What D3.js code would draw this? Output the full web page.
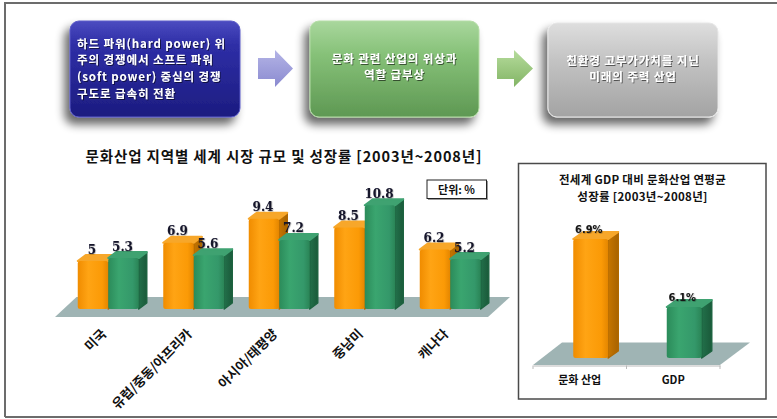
<!DOCTYPE html>
<html>
<head>
<meta charset="utf-8">
<script src="https://cdn.jsdelivr.net/npm/d3@7"></script>
<style>
  html, body { margin: 0; padding: 0; background: #fff; }
  svg { display: block; }
  .kr { font-family: "Noto Sans CJK KR", "Noto Sans", sans-serif; font-weight: 700; }
</style>
</head>
<body>
<svg id="chart" width="777" height="419"></svg>
<script>
// ---- data ----
const flowSteps = [
  ["하드 파워(hard power) 위", "주의 경쟁에서 소프트 파워", "(soft power) 중심의 경쟁", "구도로 급속히 전환"],
  ["문화 관련 산업의 위상과", "역할 급부상"],
  ["친환경 고부가가치를 지닌", "미래의 주력 산업"]
];
const regionTitle = "문화산업 지역별 세계 시장 규모 및 성장률 [2003년~2008년]";
const unitLabel = "단위: %";
const regions = ["미국", "유럽/중동/아프리카", "아시아/태평양", "중남미", "캐나다"];
const valuesOrange = [5, 6.9, 9.4, 8.5, 6.2];
const valuesGreen = [5.3, 5.6, 7.2, 10.8, 5.2];

const compareTitle = ["전세계 GDP 대비 문화산업 연평균", "성장률 [2003년~2008년]"];
const compareCategories = ["문화 산업", "GDP"];
const compareValues = [6.9, 6.1];

// ---- setup ----
const svg = d3.select("#chart");
const defs = svg.append("defs");

function linGrad(id, stops, x2 = 0, y2 = 1) {
  const g = defs.append("linearGradient").attr("id", id)
    .attr("x1", 0).attr("y1", 0).attr("x2", x2).attr("y2", y2);
  stops.forEach(([o, c]) => g.append("stop").attr("offset", o).attr("stop-color", c));
}
linGrad("gBlue", [[0, "#4b4bc0"], [0.25, "#2e2ea6"], [1, "#1c1c80"]]);
linGrad("gGreenBox", [[0, "#a9d79d"], [0.35, "#86c178"], [1, "#5e9853"]]);
linGrad("gGrayBox", [[0, "#dedede"], [0.4, "#c3c3c3"], [1, "#a3a3a3"]]);
linGrad("gArrowBlue", [[0, "#b4b4e6"], [1, "#8a8ad0"]]);
linGrad("gArrowGreen", [[0, "#b6dc9c"], [1, "#82b465"]]);
linGrad("gOrangeFront", [[0, "#f08c00"], [0.35, "#ffa414"], [0.8, "#fb9a06"], [1, "#e48600"]], 1, 0);
linGrad("gGreenFront", [[0, "#2b8b5a"], [0.35, "#3aa56f"], [0.8, "#34986a"], [1, "#2a8456"]], 1, 0);
linGrad("gOrangeSide", [[0, "#c67500"], [1, "#a86300"]], 1, 0);
linGrad("gGreenSide", [[0, "#22704a"], [1, "#1a5a3a"]], 1, 0);

const shadow = defs.append("filter").attr("id", "boxShadow")
  .attr("x", "-30%").attr("y", "-30%").attr("width", "160%").attr("height", "170%");
shadow.append("feGaussianBlur").attr("in", "SourceAlpha").attr("stdDeviation", 5).attr("result", "b");
shadow.append("feOffset").attr("in", "b").attr("dx", -5).attr("dy", 7).attr("result", "o");
shadow.append("feComponentTransfer").attr("in", "o").attr("result", "s")
  .append("feFuncA").attr("type", "linear").attr("slope", 0.6);
const sm = shadow.append("feMerge");
sm.append("feMergeNode").attr("in", "s");
sm.append("feMergeNode").attr("in", "SourceGraphic");

const tShadow = defs.append("filter").attr("id", "textShadow")
  .attr("x", "-10%").attr("y", "-30%").attr("width", "120%").attr("height", "160%");
tShadow.append("feDropShadow").attr("dx", 1).attr("dy", 1).attr("stdDeviation", 0.6)
  .attr("flood-color", "#000").attr("flood-opacity", 0.55);

const lblShadow = defs.append("filter").attr("id", "lblShadow")
  .attr("x", "-20%").attr("y", "-30%").attr("width", "140%").attr("height", "160%");
lblShadow.append("feDropShadow").attr("dx", 0.6).attr("dy", 0.6).attr("stdDeviation", 0.6)
  .attr("flood-color", "#000").attr("flood-opacity", 0.35);

// ---- outer frame ----
svg.append("path")
  .attr("d", "M5,417 L5,3 L777,3 M5,417 L777,417")
  .attr("fill", "none").attr("stroke", "#6c6c6c").attr("stroke-width", 2);

// ---- flow boxes ----
const boxes = [
  { x: 70, y: 21, w: 170, h: 96, fill: "url(#gBlue)", stroke: "#5a5ac8", align: "start", base: 47.5, gap: 16.7 },
  { x: 310, y: 21, w: 169, h: 96, fill: "url(#gGreenBox)", stroke: "#b4dca6", align: "middle", base: 62.5, gap: 16.7 },
  { x: 548, y: 23, w: 170, h: 94, fill: "url(#gGrayBox)", stroke: "#e6e6e6", align: "middle", base: 64.5, gap: 16.7 }
];
const flow = svg.append("g");
boxes.forEach((b, i) => {
  flow.append("rect").attr("x", b.x).attr("y", b.y).attr("width", b.w).attr("height", b.h)
    .attr("rx", 9).attr("fill", b.fill).attr("stroke", b.stroke).attr("stroke-width", 1)
    .attr("filter", "url(#boxShadow)");
  const tx = b.align === "start" ? b.x + 7 : b.x + b.w / 2;
  flowSteps[i].forEach((line, j) => {
    flow.append("text").attr("class", "kr").attr("fill", "#fff")
      .attr("font-size", 11.5).attr("letter-spacing", 0.9)
      .attr("text-anchor", b.align).attr("filter", "url(#textShadow)")
      .attr("x", tx).attr("y", b.base + j * b.gap).text(line);
  });
});
// arrows between the boxes
function arrowPath(x0, x1, x2) {
  return `M${x0},58 L${x1},58 L${x1},50 L${x2},68.5 L${x1},87 L${x1},79 L${x0},79 Z`;
}
flow.append("path").attr("d", arrowPath(258, 275, 293)).attr("fill", "url(#gArrowBlue)");
flow.append("path").attr("d", arrowPath(497, 514, 533)).attr("fill", "url(#gArrowGreen)");

// ---- 3D bar helper ----
const palettes = {
  orange: { front: "url(#gOrangeFront)", side: "url(#gOrangeSide)", edge: "#b06800", top: "#f7a72a" },
  green: { front: "url(#gGreenFront)", side: "url(#gGreenSide)", edge: "#1d6340", top: "#3fa271" }
};
function bar3d(g, x, w, yTop, yBase, dx, dy, pal) {
  g.append("path")
    .attr("d", `M${x + w},${yTop} L${x + w + dx},${yTop + dy} L${x + w + dx},${yBase + dy} L${x + w},${yBase} Z`)
    .attr("fill", pal.side).attr("stroke", pal.edge)
    .attr("stroke-width", 1.5).attr("stroke-linejoin", "round");
  g.append("path")
    .attr("d", `M${x},${yTop} L${x + dx},${yTop + dy} L${x + w + dx},${yTop + dy} L${x + w},${yTop} Z`)
    .attr("fill", pal.top).attr("stroke", pal.top).attr("stroke-width", 2).attr("stroke-linejoin", "round");
  g.append("rect").attr("x", x).attr("y", yTop).attr("width", w).attr("height", yBase - yTop)
    .attr("rx", 2.5).attr("fill", pal.front);
}

// ---- left chart: regional growth ----
const left = svg.append("g");
left.append("text").attr("class", "kr").attr("x", 283.5).attr("y", 162)
  .attr("text-anchor", "middle").attr("font-size", 14.5)
  .attr("textLength", 396).attr("lengthAdjust", "spacing")
  .attr("fill", "#111").text(regionTitle);

left.append("rect").attr("x", 428).attr("y", 181).attr("width", 60).attr("height", 19).attr("fill", "#9a9a9a");
left.append("rect").attr("x", 427).attr("y", 180).attr("width", 59.5).attr("height", 18.5)
  .attr("fill", "#fff").attr("stroke", "#222").attr("stroke-width", 1);
left.append("text").attr("class", "kr").attr("x", 456.5).attr("y", 193.5).attr("text-anchor", "middle")
  .attr("font-size", 11).attr("fill", "#111").text(unitLabel);

const xL = d3.scaleBand().domain(regions).range([65.5, 493]);
const xSub = d3.scaleBand().domain(["orange", "green"]).range([-30.5, 30.5]);
const yL = d3.scaleLinear().domain([0, 11]).range([309, 309 - 9.6 * 11]);

// floor
const fl0 = xL.range()[0], fl1 = xL.range()[1];
left.append("path")
  .attr("d", `M${fl0 - 10.5},317 L${fl0 + 11},297 L${fl1 + 17},297 L${fl1 - 5},317 Z`)
  .attr("fill", "#9fb4b4");

const leftBars = left.append("g");
regions.forEach((r, i) => {
  const c = xL(r) + xL.bandwidth() / 2;
  [["orange", valuesOrange[i]], ["green", valuesGreen[i]]].forEach(([k, v]) => {
    const x = c + xSub(k);
    bar3d(leftBars, x, xSub.bandwidth(), yL(v), yL(0), 8, -6, palettes[k]);
  });
});
const leftLabels = left.append("g");
regions.forEach((r, i) => {
  const c = xL(r) + xL.bandwidth() / 2;
  [["orange", valuesOrange[i]], ["green", valuesGreen[i]]].forEach(([k, v]) => {
    const x = c + xSub(k) + xSub.bandwidth() / 2;
    leftLabels.append("text").attr("x", x - 1).attr("y", yL(v) - 7.5)
      .attr("text-anchor", "middle").attr("font-family", "DejaVu Serif, serif").attr("font-weight", 700)
      .attr("font-size", 12).attr("fill", "#14142a").attr("filter", "url(#lblShadow)")
      .text(d3.format("")(v));
  });
});
// rotated category labels
regions.forEach(r => {
  const c = xL(r) + xL.bandwidth() / 2;
  left.append("text").attr("class", "kr")
    .attr("transform", `translate(${c - 5},${331}) rotate(-45)`)
    .attr("text-anchor", "end").attr("dominant-baseline", "central")
    .attr("font-size", 13).attr("fill", "#111").text(r);
});

// ---- right chart: global comparison ----
const right = svg.append("g");
right.append("rect").attr("x", 518.5).attr("y", 163.5).attr("width", 247.5).attr("height", 235.5)
  .attr("fill", "#fff").attr("stroke", "#4a4a4a").attr("stroke-width", 1.5);
compareTitle.forEach((line, j) => {
  right.append("text").attr("class", "kr").attr("x", 642.5).attr("y", 184 + j * 16.7)
    .attr("text-anchor", "middle").attr("font-size", 11.5).attr("letter-spacing", 0.3)
    .attr("fill", "#111").text(line);
});

const xR = d3.scaleBand().domain(compareCategories).range([533, 720]);
const yR = d3.scaleLinear().domain([5.5, 7]).range([358, 358 - 85 * 1.5]);

right.append("path")
  .attr("d", `M533,365 L562,342.5 L750,342.5 L720,365 Z`).attr("fill", "#9fb4b4");
const axisG = right.append("g").attr("transform", "translate(0,365.5)")
  .call(d3.axisBottom(xR).tickSize(0).tickFormat(""));
axisG.select(".domain").attr("stroke", "#b9b9b9");
[533, 626.5, 720].forEach(x => axisG.append("line").attr("x1", x).attr("x2", x)
  .attr("y1", 0).attr("y2", 3.5).attr("stroke", "#b9b9b9"));

const rKeys = ["orange", "green"];
compareCategories.forEach((c, i) => {
  const cx = xR(c) + xR.bandwidth() / 2 + 11;
  const v = compareValues[i];
  bar3d(right, cx - 17.5, 35, yR(v), yR(5.5), 10, -7, palettes[rKeys[i]]);
  right.append("text").attr("x", cx - 2).attr("y", yR(v) - 6)
    .attr("text-anchor", "middle").attr("font-family", "DejaVu Sans Condensed, DejaVu Sans, sans-serif")
    .attr("font-weight", 700).attr("font-size", 11).attr("fill", "#181818").attr("filter", "url(#lblShadow)")
    .text(d3.format(".1f")(v) + "%");
  right.append("text").attr("class", "kr").attr("x", xR(c) + xR.bandwidth() / 2).attr("y", 384)
    .attr("text-anchor", "middle").attr("font-size", 11)
    .attr("fill", "#111").text(c);
});
</script>
</body>
</html>
